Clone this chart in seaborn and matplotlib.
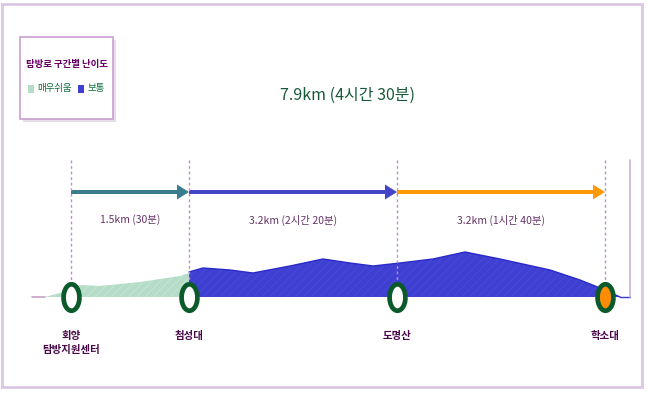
import numpy as np
import pandas as pd
import matplotlib
matplotlib.use("Agg")
import matplotlib.pyplot as plt
import matplotlib.patches as mpatches
from matplotlib.path import Path
import seaborn as sns

# trail profile (x = position along the drawing, elev = relative height)
easy_x = [45, 52, 60, 71, 80, 100, 120, 140, 160, 180, 189]
easy_elev = [0, 2, 4, 9, 12, 11, 13, 15, 18, 21, 24]
normal_x = [189, 203, 230, 253, 290, 323, 350, 373, 400, 433, 465, 500, 550, 580, 600, 620]
normal_elev = [25, 29, 27, 24, 31, 38, 34, 31, 34, 38, 45, 38, 27, 17, 9, 0]

stations = ["회양\n탐방지원센터", "첨성대", "도명산", "학소대"]
station_x = [71, 189, 397, 605]
station_fill = ["white", "white", "white", "#ff8c00"]

segments = ["1.5km (30분)", "3.2km (2시간 20분)", "3.2km (1시간 40분)"]
segment_colors = ["#3a7e8e", "#4444c8", "#ff9900"]
total_label = "7.9km (4시간 30분)"

legend_title = "탐방로 구간별 난이도"
legend_items = ["매우쉬움", "보통"]
easy_color = "#b4dcc6"
normal_color = "#3f3fd2"

sns.set_theme(style="white")
plt.rcParams["font.family"] = ["Noto Sans CJK KR", "DejaVu Sans"]
plt.rcParams["hatch.linewidth"] = 0.5

fig = plt.figure(figsize=(6.5, 3.98), dpi=100)
ax = fig.add_axes([0, 0, 1, 1])
ax.set_xlim(0, 650)
ax.set_ylim(-101, 297)
ax.axis("off")

# outer frame
ax.add_patch(mpatches.Rectangle((2, 297 - 387), 640, 383, fill=False,
                                edgecolor="#dcc6e4", lw=2))

# profile
ax.fill_between(easy_x, 0, easy_elev, facecolor=easy_color, edgecolor="#cde9da",
                hatch="////", lw=0)
ax.fill_between(normal_x, 0, normal_elev, facecolor=normal_color, edgecolor="#4c4cdc",
                hatch="////", lw=0)
prof = pd.DataFrame({"x": normal_x, "elev": normal_elev})
sns.lineplot(data=prof, x="x", y="elev", color="#2a2ac8", lw=1, ax=ax)
ax.plot([32, 45], [0, 0], color="#c8a0c8", lw=1.2)
ax.plot([620, 630], [0, 0], color="#3a3ad0", lw=1)
ax.plot([630, 630], [0, 137], color="#d0b0d8", lw=1.2)

# dotted guides
for sx in station_x:
    ax.plot([sx, sx], [12, 139], color="#b890c8", lw=1, ls=(0, (2, 2)))

# arrows + segment labels
arrow_y = 105
for i, (lab, col) in enumerate(zip(segments, segment_colors)):
    x0, x1 = station_x[i], station_x[i + 1]
    ax.arrow(x0, arrow_y, x1 - x0, 0, width=4, head_width=15, head_length=12,
             length_includes_head=True, color=col, lw=0)
    ax.text((x0 + x1) / 2, 77, lab, ha="center", va="center", fontsize=7.5,
            color="#663366")

# stations
t = np.linspace(0, 2 * np.pi, 60)
ell = Path(np.column_stack([np.cos(t) * 0.6, np.sin(t)]))
for sx, fc in zip(station_x, station_fill):
    ax.plot(sx, 0, marker=ell, markersize=19, markerfacecolor=fc,
            markeredgecolor="#0b5a2c", markeredgewidth=3.4)

for sx, name in zip(station_x, stations):
    ax.text(sx, -34, name, ha="center", va="top", fontsize=7.5, fontweight="bold",
            color="#4a0a4a", linespacing=1.5)

# title
ax.text(348, 202, total_label, ha="center", va="center", fontsize=11.5, color="#1a5a3a")

# legend box
ax.add_patch(mpatches.Rectangle((23, 297 - 122), 93, 82, facecolor="#e6dcea", lw=0))
ax.add_patch(mpatches.Rectangle((20, 297 - 119), 93, 82, facecolor="white",
                                edgecolor="#c8a0d0", lw=1.2))
ax.text(67, 233, legend_title, ha="center", va="center", fontsize=6.8,
        fontweight="bold", color="#660066")
ax.add_patch(mpatches.Rectangle((28, 204), 6, 8, facecolor=easy_color, lw=0))
ax.text(37, 208, legend_items[0], ha="left", va="center", fontsize=6.8, color="#0a6a3a")
ax.add_patch(mpatches.Rectangle((78, 204), 6, 8, facecolor=normal_color, lw=0))
ax.text(87, 208, legend_items[1], ha="left", va="center", fontsize=6.8, color="#0a6a3a")

fig.savefig("out.png", dpi=100)
